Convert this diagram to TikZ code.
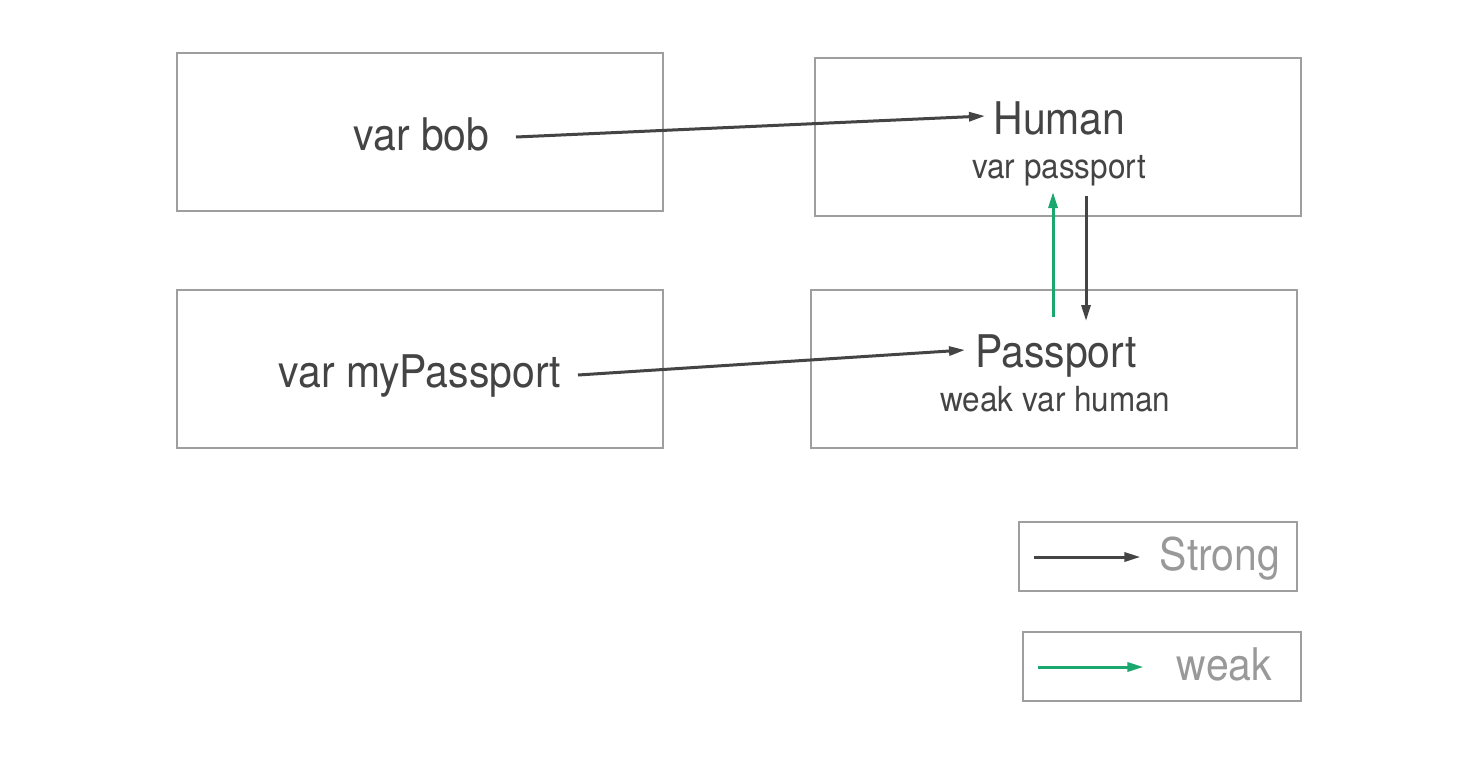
\documentclass[tikz,border=0pt]{standalone}
\usepackage{fontspec}
\setmainfont[FakeStretch=0.91]{TeX Gyre Heros}
\usetikzlibrary{arrows.meta,calc}
\definecolor{textdark}{HTML}{444444}
\definecolor{textlight}{HTML}{999999}
\definecolor{boxgray}{HTML}{9E9E9E}
\definecolor{weakgreen}{HTML}{1AA86E}
\tikzset{
  box/.style={draw=boxgray, line width=0.55pt, minimum width=243pt, minimum height=79pt, inner sep=0pt},
  legendbox/.style={draw=boxgray, line width=0.55pt, minimum width=139pt, minimum height=34.5pt, inner sep=0pt},
  maintxt/.style={text=textdark, inner sep=0pt, anchor=base, font=\fontsize{22.5}{26}\selectfont},
  subtxt/.style={text=textdark, inner sep=0pt, anchor=base, font=\fontsize{17.3}{20}\selectfont},
  legtxt/.style={text=textlight, inner sep=0pt, anchor=base, font=\fontsize{22.5}{26}\selectfont},
  strongarrow/.style={draw=textdark, line width=1.5pt, -{Triangle[length=8pt,width=4.5pt]}},
  weakarrow/.style={draw=weakgreen, line width=1.5pt, -{Triangle[length=8pt,width=4.5pt]}}
}
\begin{document}
\begin{tikzpicture}[x=0.5pt,y=-0.5pt]
\useasboundingbox[fill=white] (0,0) rectangle (1482,761);
% boxes
\node[box] (bobbox) at (420,132) {};
\node[box] (humanbox) at (1058,137) {};
\node[box] (mypassbox) at (420,369) {};
\node[box] (passbox) at (1054,369) {};
\node[legendbox] (strongbox) at (1158,556.5) {};
\node[legendbox] (weakbox) at (1162,666.5) {};
% texts
\node[maintxt] (bobtxt) at (421.5,150) {var bob};
\node[maintxt] (humantxt) at (1059.5,134) {Human};
\node[subtxt] (passporttxt) at (1059,178) {var passport};
\node[maintxt] (mypasstxt) at (420,387) {var myPassport};
\node[maintxt] (passtxt) at (1056,367) {Passport};
\node[subtxt] (weakhumantxt) at (1055.5,411) {weak var human};
\node[legtxt] (strongtxt) at (1220,570) {Strong};
\node[legtxt] (weaktxt) at (1224.5,680) {weak};
% connectors
\draw[strongarrow] ($(bobtxt.base)+(94.5,-13)$) -- ($(humantxt.base)+(-74.5,-18)$);
\draw[strongarrow] ($(mypasstxt.base)+(158,-12)$) -- ($(passtxt.base)+(-91,-17)$);
\draw[weakarrow] ($(passtxt.base)+(-3,-50)$) -- ($(passporttxt.base)+(-6,14)$);
\draw[strongarrow] ($(passporttxt.base)+(27,18)$) -- ($(passtxt.base)+(30,-46)$);
% legend arrows
\draw[strongarrow] ($(strongbox.west)+(16,0.5)$) -- ($(strongbox.west)+(122,0.5)$);
\draw[weakarrow] ($(weakbox.west)+(16,0.5)$) -- ($(weakbox.west)+(121,0.5)$);
\end{tikzpicture}
\end{document}
